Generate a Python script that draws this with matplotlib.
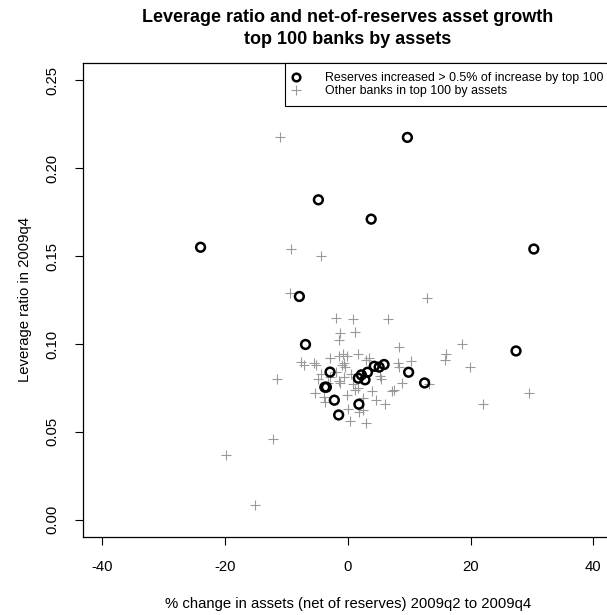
import matplotlib
matplotlib.use("Agg")
import matplotlib.pyplot as plt
from matplotlib.lines import Line2D

plt.rcParams['font.family'] = ['Liberation Sans', 'DejaVu Sans']

# Banks where reserves increased > 0.5% of increase by top 100
res_x = [-24.0, -4.8, 3.8, 9.7, 30.3, -7.9, -6.9, 27.4,
         -2.9, -3.75, -3.5, -2.2, -1.5, 1.8, 1.7, 2.2, 2.8, 3.2, 4.3, 5.1, 5.9, 9.9, 12.5]
res_y = [0.155, 0.182, 0.171, 0.2175, 0.154, 0.127, 0.0997, 0.096,
         0.084, 0.0754, 0.0754, 0.068, 0.0596, 0.0657, 0.0805, 0.0824, 0.0796, 0.0839,
         0.0873, 0.0868, 0.0883, 0.0839, 0.0778]

# Other banks in top 100 by assets
oth_x = [-11.0, -9.3, -4.4, -9.45, -11.5, -12.2, -19.9, -15.1, 12.9, 18.6, 16.0, 15.9,
         19.9, 22.0, 29.5, 13.2,
         -1.9, 0.9, 6.6, -1.3, 1.2, -1.5, 8.4, -7.6, -7.2, -5.5, -5.2, -2.9, -1.5, -0.8,
         -0.1, -1.0, -0.4, -0.6, 1.7, 3.0, 3.4, 8.1, 8.3, 10.3, -4.4, -4.8, -2.9, -1.4,
         -1.2, 0.8, 1.2, 1.6, 5.3, 5.4, 8.8, 7.2, 7.5, -5.4, -3.9, -3.7, -0.1, 3.9, 2.5,
         4.6, 6.0, 0.1, 1.8, 2.5, 0.3, 2.9, -3.3, -2.0, 0.5, -0.7]
oth_y = [0.218, 0.154, 0.150, 0.129, 0.080, 0.046, 0.037, 0.0085, 0.126, 0.100, 0.094, 0.091,
         0.087, 0.066, 0.072, 0.077,
         0.115, 0.114, 0.114, 0.106, 0.107, 0.102, 0.098, 0.090, 0.088, 0.089, 0.088, 0.092,
         0.093, 0.0945, 0.093, 0.088, 0.087, 0.089, 0.094, 0.091, 0.092, 0.089, 0.087, 0.0905,
         0.083, 0.080, 0.081, 0.079, 0.078, 0.077, 0.074, 0.075, 0.082, 0.080, 0.0776, 0.0735,
         0.074, 0.072, 0.070, 0.067, 0.071, 0.073, 0.069, 0.068, 0.066, 0.063, 0.061, 0.0625,
         0.056, 0.055, 0.078, 0.084, 0.083, 0.081]

xticks = [-40, -20, 0, 20, 40]
xticklabels = ['-40', '-20', '0', '20', '40']
yticks = [0.00, 0.05, 0.10, 0.15, 0.20, 0.25]
yticklabels = ['0.00', '0.05', '0.10', '0.15', '0.20', '0.25']

W, H = 607, 615
fig = plt.figure(figsize=(W / 100, H / 100), dpi=100)
left, right, top, bottom = 82.7, 613.0, 62.7, 537.3
aw, ah = right - left, bottom - top
ax = fig.add_axes([left / W, 1 - bottom / H, aw / W, ah / H])

ax.scatter(oth_x, oth_y, marker='+', s=55, linewidths=0.8, color='#999999', zorder=2)
ax.scatter(res_x, res_y, marker='o', s=40, facecolors='none', edgecolors='black',
           linewidths=1.8, zorder=3)

ax.set_xlim(-43.2, 43.2)
ax.set_ylim(-0.01, 0.26)
ax.set_xticks(xticks)
ax.set_xticklabels(xticklabels)
ax.set_yticks(yticks)
ax.set_yticklabels(yticklabels, rotation=90, va='center')
ax.tick_params(length=6, width=0.8, colors='black', labelsize=10.7)
ax.tick_params(axis='x', pad=10)
ax.tick_params(axis='y', pad=11)
for s in ax.spines.values():
    s.set_linewidth(0.9)

ax.set_xlabel('% change in assets (net of reserves) 2009q2 to 2009q4', fontsize=10.7)
ax.xaxis.set_label_coords(0.5, (bottom - 604) / ah)
ax.xaxis.label.set_va('center')
ax.set_ylabel('Leverage ratio in 2009q4', fontsize=10.7)
ax.yaxis.set_label_coords((25 - left) / aw, 0.5)
ax.yaxis.label.set_va('center')

ax.set_title('Leverage ratio and net-of-reserves asset growth\ntop 100 banks by assets',
             fontsize=13, fontweight='bold', y=(bottom - 28.7) / ah, pad=0,
             va='center', linespacing=1.42)

handles = [
    Line2D([], [], marker='o', linestyle='none', markerfacecolor='none',
           markeredgecolor='black', markeredgewidth=1.8, markersize=5.5),
    Line2D([], [], marker='+', linestyle='none', color='#999999',
           markeredgewidth=0.8, markersize=7),
]
leg = ax.legend(handles,
                ['Reserves increased > 0.5% of increase by top 100',
                 'Other banks in top 100 by assets'],
                loc='upper right', bbox_to_anchor=(1, 1), borderaxespad=0,
                fontsize=8.9, frameon=True, fancybox=False, framealpha=1,
                edgecolor='black', handlelength=0.3, handletextpad=2.27,
                borderpad=0.74, labelspacing=0.08)
leg.get_frame().set_linewidth(0.8)

fig.savefig('out.png', dpi=100)
